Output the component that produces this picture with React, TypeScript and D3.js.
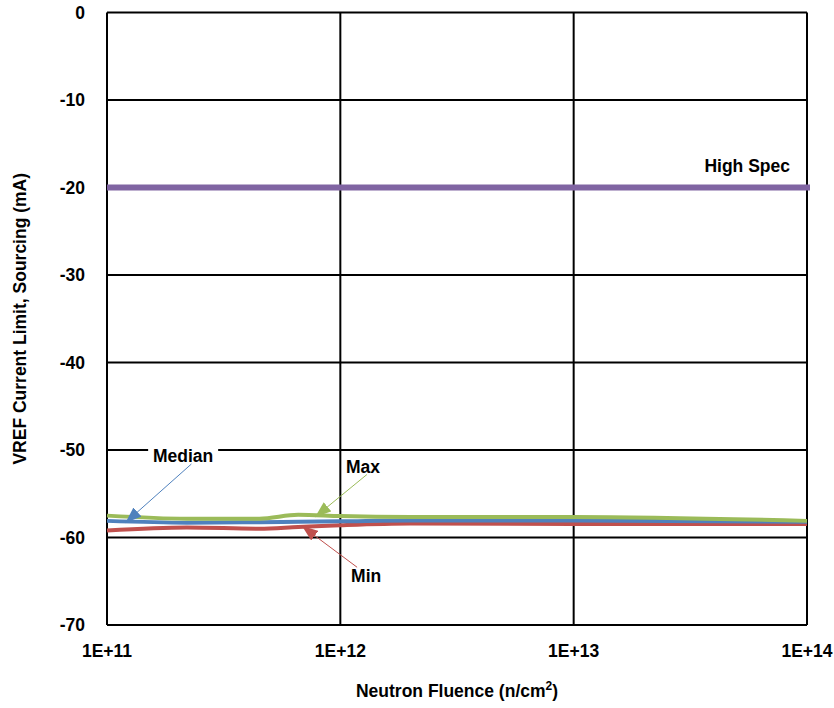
import React from "react";
import * as d3 from "d3";

// Neutron fluence (n/cm²) at each measurement
const fluence = [1e11, 2.2e11, 4.5e11, 6.6e11, 1e12, 2e12, 1e13, 1e14];
// VREF sourcing current limit (mA)
const maxValues = [-57.5, -57.85, -57.85, -57.4, -57.55, -57.65, -57.65, -58.1];
const medianValues = [-58.1, -58.3, -58.25, -58.2, -58.15, -58.05, -58.05, -58.2];
const minValues = [-59.2, -58.85, -59.0, -58.8, -58.6, -58.4, -58.45, -58.45];
const highSpec = -20;

const xTicks = [1e11, 1e12, 1e13, 1e14];
const xTickLabels = ["1E+11", "1E+12", "1E+13", "1E+14"];
const yTicks = [0, -10, -20, -30, -40, -50, -60, -70];
const yTickLabels = ["0", "-10", "-20", "-30", "-40", "-50", "-60", "-70"];

// Callouts: label centre, arrow tail and arrow tip, in data units
const calloutNames = ["Median", "Max", "Min"];
const calloutLabelX = [2.12e11, 1.25e12, 1.29e12];
const calloutLabelY = [-50.7, -51.9, -64.4];
const calloutTailX = [2.3e11, 1.3e12, 1.18e12];
const calloutTailY = [-51.6, -52.8, -63.4];
const calloutTipX = [1.2e11, 7.8e11, 6.85e11];
const calloutTipY = [-58.3, -57.65, -58.7];

const W = 834;
const H = 708;
const margin = { left: 107, right: 27, top: 12.5, bottom: 83 };
const FONT = "'Liberation Sans', Arial, Helvetica, sans-serif";
const FS = 17.5;

const colors = {
  max: "#9BBB59",
  median: "#4F81BD",
  min: "#C0504D",
  spec: "#8064A2",
};

export default function App() {
  const x = d3
    .scaleLog()
    .domain([1e11, 1e14])
    .range([margin.left, W - margin.right]);
  const y = d3
    .scaleLinear()
    .domain([-70, 0])
    .range([H - margin.bottom, margin.top]);

  const line = d3
    .line<number>()
    .x((_, i) => x(fluence[i]))
    .y((d) => y(d))
    .curve(d3.curveMonotoneX);

  const series = [
    { key: "min", values: minValues, color: colors.min },
    { key: "median", values: medianValues, color: colors.median },
    { key: "max", values: maxValues, color: colors.max },
  ];
  const calloutColors = [colors.median, colors.max, colors.min];

  const [x0, x1] = x.range();
  const [yb, yt] = y.range();

  return (
    <svg
      width={W}
      height={H}
      style={{ position: "absolute", left: 0, top: 0, background: "#fff" }}
      fontFamily={FONT}
      fontWeight="bold"
    >
      <defs>
        {calloutColors.map((c, i) => (
          <marker
            key={i}
            id={`arrow-${i}`}
            viewBox="0 0 16 12"
            refX="16"
            refY="6"
            markerWidth="16"
            markerHeight="12"
            markerUnits="userSpaceOnUse"
            orient="auto"
          >
            <path d="M0,0 L16,6 L0,12 Z" fill={c} />
          </marker>
        ))}
      </defs>

      {/* grid */}
      <g stroke="#000" strokeWidth={2}>
        {yTicks.map((t) => (
          <line key={`gy${t}`} x1={x0} x2={x1} y1={y(t)} y2={y(t)} />
        ))}
        {xTicks.map((t) => (
          <line key={`gx${t}`} x1={x(t)} x2={x(t)} y1={yb} y2={yt} />
        ))}
      </g>

      {/* y tick labels */}
      <g fontSize={FS} textAnchor="end">
        {yTicks.map((t, i) => (
          <text key={t} x={85} y={y(t)} dy="0.35em" fill="#000">
            {yTickLabels[i]}
          </text>
        ))}
      </g>

      {/* x tick labels */}
      <g fontSize={FS} textAnchor="middle">
        {xTicks.map((t, i) => (
          <text key={t} x={x(t)} y={657} fill="#000">
            {xTickLabels[i]}
          </text>
        ))}
      </g>

      {/* axis titles */}
      <text x={457} y={697} fontSize={FS} textAnchor="middle" fill="#000">
        <tspan>Neutron Fluence (n/cm</tspan>
        <tspan fontSize={12} dy={-7}>2</tspan>
        <tspan dy={7}>)</tspan>
      </text>
      <text
        transform={`translate(26,${(yt + yb) / 2}) rotate(-90)`}
        fontSize={FS}
        textAnchor="middle"
        fill="#000"
      >
        VREF Current Limit, Sourcing (mA)
      </text>

      {/* high spec limit */}
      <line
        x1={x0}
        x2={x1 + 3}
        y1={y(highSpec)}
        y2={y(highSpec)}
        stroke={colors.spec}
        strokeWidth={6}
      />
      <text x={790} y={172} fontSize={FS} textAnchor="end" fill="#000">
        High Spec
      </text>

      {/* measured series */}
      {series.map((s) => (
        <path
          key={s.key}
          d={line(s.values) || ""}
          fill="none"
          stroke={s.color}
          strokeWidth={4}
          strokeLinejoin="round"
        />
      ))}

      {/* callouts */}
      {calloutNames.map((name, i) => {
        const lx = x(calloutLabelX[i]);
        const ly = y(calloutLabelY[i]);
        return (
          <g key={name}>
            <rect
              x={lx - 35}
              y={ly - 10}
              width={70}
              height={20}
              fill="#fff"
              opacity={name === "Median" ? 1 : 0}
            />
            <text
              x={lx}
              y={ly}
              dy="0.35em"
              fontSize={FS}
              textAnchor="middle"
              fill="#000"
            >
              {name}
            </text>
            <line
              x1={x(calloutTailX[i])}
              y1={y(calloutTailY[i])}
              x2={x(calloutTipX[i])}
              y2={y(calloutTipY[i])}
              stroke={calloutColors[i]}
              strokeWidth={1}
              markerEnd={`url(#arrow-${i})`}
            />
          </g>
        );
      })}
    </svg>
  );
}
